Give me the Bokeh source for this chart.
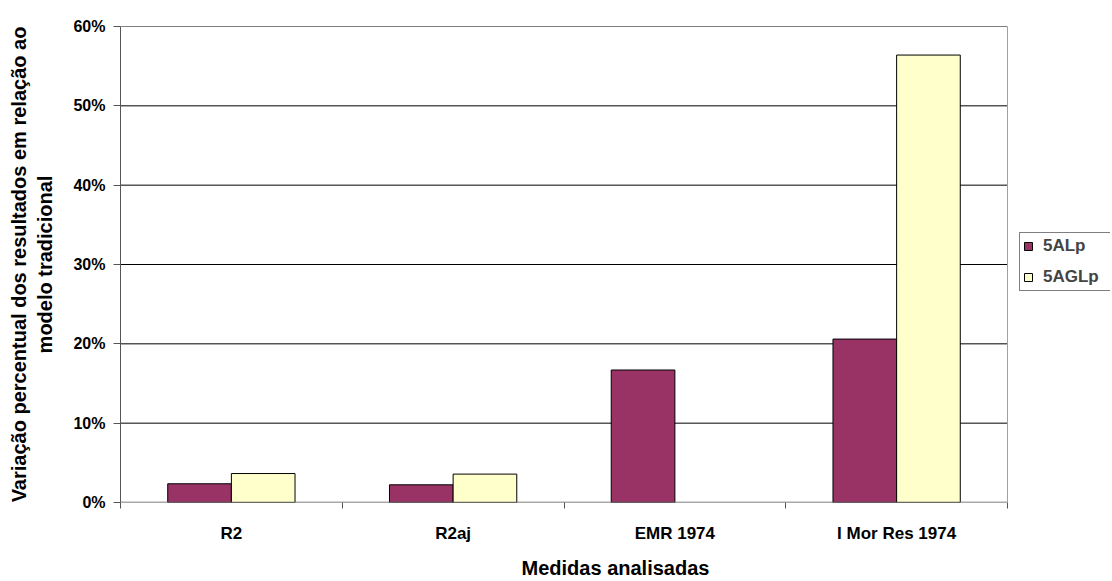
from bokeh.plotting import figure
from bokeh.models import (ColumnDataSource, FixedTicker, NumeralTickFormatter,
                          Legend, LegendItem, Span, Range1d)
from bokeh.embed import file_html
from bokeh.resources import INLINE

# Measures analysed and the percentage change of each model vs. the traditional model
categories = ["R2", "R2aj", "EMR 1974", "I Mor Res 1974"]
series_names = ["5ALp", "5AGLp"]
alp_values = [0.0236, 0.0223, 0.167, 0.206]
aglp_values = [0.0365, 0.0358, 0.0, 0.564]
y_ticks = [0.0, 0.1, 0.2, 0.3, 0.4, 0.5, 0.6]

colors = ["#993366", "#FFFFCC"]
FONT = "Liberation Sans"

W, H = 1112, 581
LEFT, RIGHT, TOP, BOTTOM = 120, 2, 26, 79
PLOT_W = 887  # width of the bar area; the rest of the frame holds the legend

n = len(categories)
centers = [i + 0.5 for i in range(n)]
bar_w = 0.287
frame_w = W - LEFT - RIGHT
x_end = n * frame_w / PLOT_W


def bar_source(offset, values):
    # empty (zero) bars get no outline
    return ColumnDataSource(dict(
        x=[c + offset for c in centers],
        top=values,
        outline=["black" if v > 0 else None for v in values],
    ))


src_a = bar_source(-bar_w / 2, alp_values)
src_b = bar_source(bar_w / 2, aglp_values)

p = figure(width=W, height=H, output_backend="svg", toolbar_location=None,
           x_range=Range1d(0, x_end), y_range=Range1d(0, y_ticks[-1]),
           min_border_left=LEFT, min_border_right=RIGHT, min_border_top=TOP,
           min_border_bottom=BOTTOM)
p.background_fill_color = "white"
p.border_fill_color = "white"
p.outline_line_color = None

# horizontal gridlines across the bar area only
grid_y = y_ticks[1:]
p.segment(x0=[0] * len(grid_y), x1=[n] * len(grid_y), y0=grid_y, y1=grid_y,
          line_color="black", line_width=1)

ra = p.vbar(x="x", top="top", bottom=0, width=bar_w, source=src_a,
            fill_color=colors[0], line_color="outline", line_width=1)
rb = p.vbar(x="x", top="top", bottom=0, width=bar_w, source=src_b,
            fill_color=colors[1], line_color="outline", line_width=1)

# category axis baseline and right edge of the bar area
p.segment(x0=[0], x1=[n], y0=[0], y1=[0], line_color="#555555", line_width=1.5)
p.add_layout(Span(location=n, dimension="height", line_color="#a0a0a0", line_width=1))

# x axis: category names centred, tick marks on the category boundaries
xa = p.xaxis[0]
xa.ticker = FixedTicker(ticks=centers, minor_ticks=list(range(n + 1)))
xa.major_label_overrides = {c: name for c, name in zip(centers, categories)}
xa.major_tick_out = 0
xa.major_tick_in = 0
xa.minor_tick_out = 6
xa.minor_tick_in = 0
xa.minor_tick_line_color = "#555555"
xa.axis_line_color = None
xa.major_label_standoff = 15
xa.major_label_text_font = FONT
xa.major_label_text_font_style = "bold"
xa.major_label_text_font_size = "17px"
xa.major_label_text_color = "black"
xa.axis_label = "Medidas analisadas"
xa.axis_label_text_font = FONT
xa.axis_label_text_font_style = "bold"
xa.axis_label_text_font_size = "20px"
xa.axis_label_text_color = "black"
xa.axis_label_standoff = 11

ya = p.yaxis[0]
ya.ticker = FixedTicker(ticks=y_ticks, minor_ticks=[])
ya.formatter = NumeralTickFormatter(format="0%")
ya.major_tick_out = 7
ya.major_tick_in = 0
ya.major_tick_line_color = "#555555"
ya.axis_line_color = "#555555"
ya.major_label_standoff = 8
ya.major_label_text_font = FONT
ya.major_label_text_font_style = "bold"
ya.major_label_text_font_size = "16px"
ya.major_label_text_color = "black"
ya.axis_label = "Variação percentual dos resultados em relação ao\nmodelo tradicional"
ya.axis_label_text_font = FONT
ya.axis_label_text_font_style = "bold"
ya.axis_label_text_font_size = "20px"
ya.axis_label_text_color = "black"
ya.axis_label_standoff = 14

p.xgrid.grid_line_color = None
p.ygrid.grid_line_color = None

legend = Legend(items=[LegendItem(label=series_names[0], renderers=[ra]),
                       LegendItem(label=series_names[1], renderers=[rb])],
                location=(PLOT_W + 12, 211))
legend.border_line_color = "black"
legend.border_line_width = 1
legend.background_fill_color = "white"
legend.background_fill_alpha = 1
legend.label_text_font = FONT
legend.label_text_font_style = "bold"
legend.label_text_font_size = "17px"
legend.glyph_width = 10
legend.glyph_height = 10
legend.label_height = 20
legend.label_width = 66
legend.label_standoff = 10
legend.spacing = 11
legend.padding = 3
legend.margin = 0
p.add_layout(legend)

open("out.html", "w").write(file_html(p, INLINE))
